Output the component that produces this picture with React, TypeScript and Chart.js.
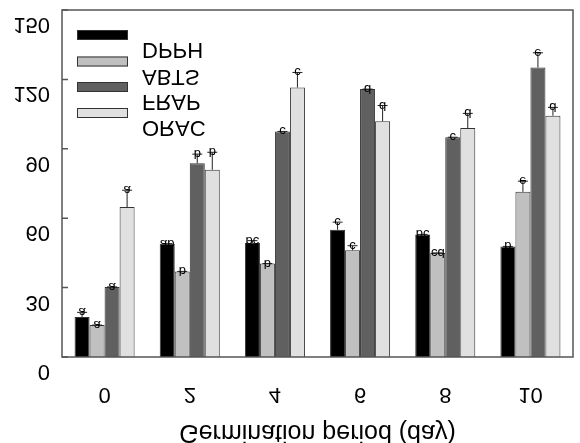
import React, { useEffect, useRef } from "react";
import { Chart, registerables } from "chart.js";

Chart.register(...registerables);

const categories = ["0", "2", "4", "6", "8", "10"];
const yTicks = [0, 30, 60, 90, 120, 150];
const seriesNames = ["DPPH", "ABTS", "FRAP", "ORAC"];
const seriesColors = ["#000000", "#c0c0c0", "#606060", "#e0e0e0"];

const dpph = [17.3, 49, 49.3, 55, 53, 47.8];
const abts = [13.8, 37, 40.4, 46.1, 45, 71.4];
const frap = [30.3, 83.7, 97.5, 115.8, 95, 125.1];
const orac = [64.8, 80.9, 116.5, 101.9, 99, 104.3];

const dpphErr = [2, 0, 1, 3.3, 0, 0];
const abtsErr = [0, 0, 0, 2, 0, 4.6];
const frapErr = [0, 4, 0, 0, 0, 6.4];
const oracErr = [7.3, 7.6, 6.5, 6.8, 6.3, 3.6];

const dpphLetters = ["a", "ab", "bc", "c", "bc", "b"];
const abtsLetters = ["a", "b", "b", "c", "cd", "e"];
const frapLetters = ["a", "b", "c", "d", "c", "e"];
const oracLetters = ["a", "b", "c", "d", "d", "d"];

const xTitle = "Germination period (day)";

const seriesValues = [dpph, abts, frap, orac];
const seriesErrs = [dpphErr, abtsErr, frapErr, oracErr];
const seriesLetters = [dpphLetters, abtsLetters, frapLetters, oracLetters];

const FONT = '"Liberation Sans", Arial, sans-serif';

function flipText(
  ctx: CanvasRenderingContext2D,
  text: string,
  x: number,
  baseline: number,
  align: CanvasTextAlign,
  size: number
) {
  ctx.save();
  ctx.translate(x, baseline);
  ctx.scale(1, -1);
  ctx.font = `${size}px ${FONT}`;
  ctx.fillStyle = "#000";
  ctx.textAlign = align;
  ctx.textBaseline = "alphabetic";
  ctx.fillText(text, 0, 0);
  ctx.restore();
}

const decorPlugin = {
  id: "decor",
  afterDatasetsDraw(chart: any) {
    const ctx: CanvasRenderingContext2D = chart.ctx;
    const { left, right, top, bottom } = chart.chartArea;
    const yScale = chart.scales.y;
    const xScale = chart.scales.x;

    // error bars + letters
    seriesValues.forEach((vals, i) => {
      const meta = chart.getDatasetMeta(i);
      meta.data.forEach((bar: any, j: number) => {
        const x = bar.x;
        const yTop = bar.y;
        const yCap = yScale.getPixelForValue(vals[j] + seriesErrs[i][j]);
        ctx.save();
        ctx.strokeStyle = "#222";
        ctx.lineWidth = 1;
        ctx.beginPath();
        if (yCap < yTop - 0.5) {
          ctx.moveTo(x, yTop);
          ctx.lineTo(x, yCap);
        }
        ctx.moveTo(x - 5, yCap);
        ctx.lineTo(x + 5, yCap);
        ctx.stroke();
        ctx.restore();
        flipText(ctx, seriesLetters[i][j], x, yCap - 4, "center", 13);
      });
    });

    // frame
    ctx.save();
    ctx.strokeStyle = "#555";
    ctx.lineWidth = 1.5;
    ctx.strokeRect(left, top, right - left, bottom - top);
    // inward ticks
    ctx.beginPath();
    yTicks.forEach((t) => {
      const py = yScale.getPixelForValue(t);
      ctx.moveTo(left, py);
      ctx.lineTo(left + 6, py);
    });
    ctx.stroke();
    ctx.restore();

    // y tick labels (flipped)
    yTicks.forEach((t) => {
      const py = yScale.getPixelForValue(t);
      flipText(ctx, String(t), left - 12, py + 8, "right", 22);
    });

    // x tick labels
    categories.forEach((c, k) => {
      const px = xScale.getPixelForValue(k);
      flipText(ctx, c, px, bottom + 31, "center", 22);
    });

    // x title
    flipText(ctx, xTitle, (left + right) / 2, bottom + 68, "center", 25);

    // legend
    const boxTops = [30, 56.5, 82, 108];
    seriesNames.forEach((name, i) => {
      const by = boxTops[i];
      ctx.save();
      ctx.fillStyle = seriesColors[i];
      ctx.fillRect(77, by, 51, 10);
      ctx.strokeStyle = "#333";
      ctx.lineWidth = 1;
      ctx.strokeRect(77.5, by + 0.5, 50, 9);
      ctx.restore();
      flipText(ctx, name, 142, by + 13, "left", 22);
    });
  },
};

export default function App() {
  const ref = useRef<HTMLCanvasElement | null>(null);

  useEffect(() => {
    if (!ref.current) return;
    const chart = new Chart(ref.current, {
      type: "bar",
      data: {
        labels: categories,
        datasets: seriesNames.map((name, i) => ({
          label: name,
          data: seriesValues[i],
          backgroundColor: seriesColors[i],
          borderColor: "#333",
          borderWidth: 1,
          barPercentage: 1,
          categoryPercentage: 0.705,
        })),
      },
      options: {
        responsive: false,
        animation: false,
        layout: { padding: { top: 10, right: 7, left: 0, bottom: 0 } },
        plugins: {
          legend: { display: false },
          tooltip: { enabled: false },
          title: { display: false },
        },
        scales: {
          x: {
            type: "category",
            ticks: { display: false },
            grid: { display: false },
            border: { display: false },
            afterFit: (s: any) => {
              s.height = 86;
            },
          },
          y: {
            min: 0,
            max: 150,
            ticks: { display: false, stepSize: 30 },
            grid: { display: false },
            border: { display: false },
            afterFit: (s: any) => {
              s.width = 62;
            },
          },
        },
      },
      plugins: [decorPlugin],
    });
    return () => chart.destroy();
  }, []);

  return (
    <div style={{ position: "fixed", left: 0, top: 0, width: 580, height: 443, background: "#fff" }}>
      <canvas ref={ref} width={580} height={443} style={{ display: "block" }} />
    </div>
  );
}
